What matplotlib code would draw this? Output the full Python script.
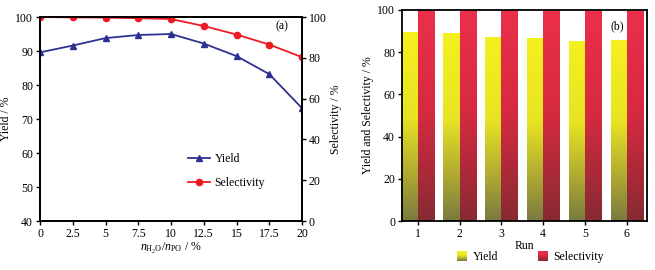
import numpy as np
import matplotlib
matplotlib.use("Agg")
import matplotlib.pyplot as plt
from matplotlib.colors import LinearSegmentedColormap
from matplotlib.patches import Rectangle
from matplotlib.legend_handler import HandlerBase

plt.rcParams['font.family'] = ['Liberation Serif', 'DejaVu Serif']
plt.rcParams['mathtext.fontset'] = 'custom'
plt.rcParams['mathtext.rm'] = 'Liberation Serif'
plt.rcParams['mathtext.it'] = 'Liberation Serif:italic'
plt.rcParams['font.size'] = 8.5

# Data
ratio = [0, 2.5, 5, 7.5, 10, 12.5, 15, 17.5, 20]
ratio_labels = ['0', '2.5', '5', '7.5', '10', '12.5', '15', '17.5', '20']
yield_a = [89.6, 91.6, 93.8, 94.7, 95.0, 92.2, 88.5, 83.2, 73.2]
select_a = [100.0, 99.8, 99.7, 99.4, 99.0, 95.6, 91.4, 86.5, 80.3]

runs = [1, 2, 3, 4, 5, 6]
yield_b = [89.6, 88.9, 87.3, 86.6, 85.1, 85.9]
select_b = [100.0, 100.0, 100.0, 99.3, 99.3, 99.3]

fig = plt.figure(figsize=(6.55, 2.7), dpi=100)

# ---- Panel (a)
ax1 = fig.add_axes([40/655, 1-221/270, 262/655, 204/270])
ax2 = ax1.twinx()
blue = '#2e3192'
red = '#ed1c24'
l1, = ax1.plot(ratio, yield_a, color=blue, marker='^', ms=4.5, lw=1.3, label='Yield')
l2, = ax2.plot(ratio, select_a, color=red, marker='o', ms=4.5, lw=1.3, label='Selectivity')
ax1.set_xlim(0, 20)
ax1.set_ylim(40, 100)
ax2.set_ylim(0, 100)
ax1.set_xticks(ratio)
ax1.set_xticklabels(ratio_labels)
ax1.set_yticks(range(40, 101, 10))
ax2.set_yticks(range(0, 101, 20))
ax1.set_ylabel('Yield / %', labelpad=2)
ax2.set_ylabel('Selectivity / %', labelpad=2)
ax1.set_xlabel(r'$n_{\mathrm{H_2O}}/n_{\mathrm{PO}}$ / %', labelpad=1)
ax1.text(0.924, 0.956, '(a)', transform=ax1.transAxes, ha='center', va='center')
ax1.legend([l1, l2], ['Yield', 'Selectivity'], loc='center left',
           bbox_to_anchor=(0.565, 0.245), frameon=False, handlelength=1.9,
           handletextpad=0.35, labelspacing=1.0, fontsize=8.5,
           borderaxespad=0, borderpad=0)
for a in (ax1, ax2):
    for s in a.spines.values():
        s.set_linewidth(1.3)
    a.tick_params(width=1.0, length=3, pad=2)

# ---- Panel (b)
ax3 = fig.add_axes([402/655, 1-221/270, 245/655, 211/270])
w = 0.39
ycmap = LinearSegmentedColormap.from_list(
    'y', [(0, '#f5f01e'), (0.45, '#e8e424'), (0.75, '#b0ab32'), (1, '#7a7a40')])
rcmap = LinearSegmentedColormap.from_list(
    'r', [(0, '#ec2f4a'), (0.5, '#d42a40'), (1, '#872a32')])
grad = np.linspace(0, 1, 256).reshape(-1, 1)
for r, yv, sv in zip(runs, yield_b, select_b):
    for x0, h, cm in ((r - w, yv, ycmap), (r, sv, rcmap)):
        rect = Rectangle((x0, 0), w, h, facecolor='none', edgecolor='none')
        ax3.add_patch(rect)
        im = ax3.imshow(grad, cmap=cm, aspect='auto', origin='upper',
                        extent=(x0, x0 + w, 0, h), zorder=1, vmin=0, vmax=1)
        im.set_clip_path(rect)
ax3.set_xlim(0.625, 6.48)
ax3.set_ylim(0, 100)
ax3.set_xticks(runs)
ax3.set_yticks(range(0, 101, 20))
ax3.set_xlabel('Run', labelpad=0)
ax3.set_ylabel('Yield and Selectivity / %', labelpad=2)
ax3.text(0.877, 0.924, '(b)', transform=ax3.transAxes, ha='center', va='center')
for s in ax3.spines.values():
    s.set_linewidth(1.3)
ax3.tick_params(width=1.0, length=3, pad=2)


class GradHandler(HandlerBase):
    def __init__(self, cmap):
        super().__init__()
        self.cmap = cmap

    def create_artists(self, legend, orig_handle, xdescent, ydescent, width,
                       height, fontsize, trans):
        arts = []
        n = 10
        s = height * 1.15
        x0 = width - s
        for i in range(n):
            c = self.cmap(i / (n - 1))
            r = Rectangle((x0, -ydescent + s * (n - 1 - i) / n - 1), s, s / n + 0.3,
                          facecolor=c, edgecolor='none', transform=trans)
            arts.append(r)
        return arts

h1 = Rectangle((0, 0), 1, 1)
h2 = Rectangle((0, 0), 1, 1)
fig.legend([h1, h2], ['Yield', 'Selectivity'],
           handler_map={h1: GradHandler(ycmap), h2: GradHandler(rcmap)},
           loc='center', bbox_to_anchor=(530/655, 1-257/270), ncol=2,
           frameon=False, handlelength=0.9, columnspacing=3.3, handletextpad=0.5)

fig.savefig('out.png', dpi=100)
